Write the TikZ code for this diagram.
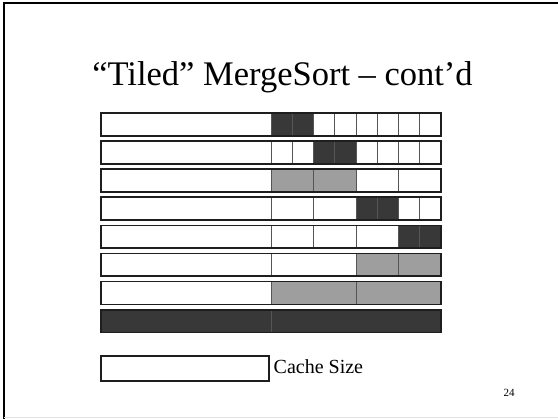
\documentclass[tikz,border=0pt]{standalone}
\usepackage{fontspec}
\setmainfont{Liberation Serif}
\definecolor{darkcell}{HTML}{383838}
\definecolor{greycell}{HTML}{9E9E9E}
\definecolor{divline}{HTML}{555555}
\definecolor{frameline}{HTML}{1E1E1E}
\begin{document}
\begin{tikzpicture}[x=1pt,y=-1pt,
  cellbase/.style={draw=divline,line width=0.9pt},
  W/.style={cellbase,fill=white},
  D/.style={cellbase,fill=darkcell},
  G/.style={cellbase,fill=greycell},
  rowframe/.style={draw=frameline,line width=1.7pt},
  pageline/.style={line width=2pt,draw=black}]
\useasboundingbox (0,0) rectangle (558,419);
\draw[pageline] (4,420) -- (4,3.5) -- (558,3.5);
\draw[black!12,line width=1pt] (4,417.5) -- (558,417.5);
\node[anchor=base,font=\fontsize{34.5}{41}\selectfont,inner sep=0pt] (title) at (282.5,86) {“Tiled” MergeSort – cont’d};
\def\rh{22.8}
% rows: top / list of segments x1/x2/style
\foreach \t/\segs in {
  113/{101/271/W,271/292.25/D,292.25/313.5/D,313.5/334.75/W,334.75/356/W,356/377.25/W,377.25/398.5/W,398.5/419.75/W,419.75/441/W},
  141.1/{101/271/W,271/292.25/W,292.25/313.5/W,313.5/334.75/D,334.75/356/D,356/377.25/W,377.25/398.5/W,398.5/419.75/W,419.75/441/W},
  169.2/{101/271/W,271/313.5/G,313.5/356/G,356/398.5/W,398.5/441/W},
  197.3/{101/271/W,271/313.5/W,313.5/356/W,356/377.25/D,377.25/398.5/D,398.5/419.75/W,419.75/441/W},
  225.4/{101/271/W,271/313.5/W,313.5/356/W,356/398.5/W,398.5/419.75/D,419.75/441/D},
  253.5/{101/271/W,271/356/W,356/398.5/G,398.5/441/G},
  281.6/{101/271/W,271/356/G,356/441/G},
  309.7/{101/271/D,271/441/D}}{
  \foreach \a/\b/\s in \segs {
    \path[\s] (\a,\t) rectangle (\b,{\t+\rh});
  }
  \draw[rowframe] (101,\t) rectangle (441,{\t+\rh});
}
\draw[rowframe] (101,356) rectangle (269,381);
\node[anchor=base west,font=\fontsize{20}{24}\selectfont,inner sep=0pt] (cache) at (273.5,374) {Cache Size};
\node[anchor=base west,font=\fontsize{11}{13}\selectfont,inner sep=0pt] (pagenum) at (503.5,397) {24};
\end{tikzpicture}
\end{document}
